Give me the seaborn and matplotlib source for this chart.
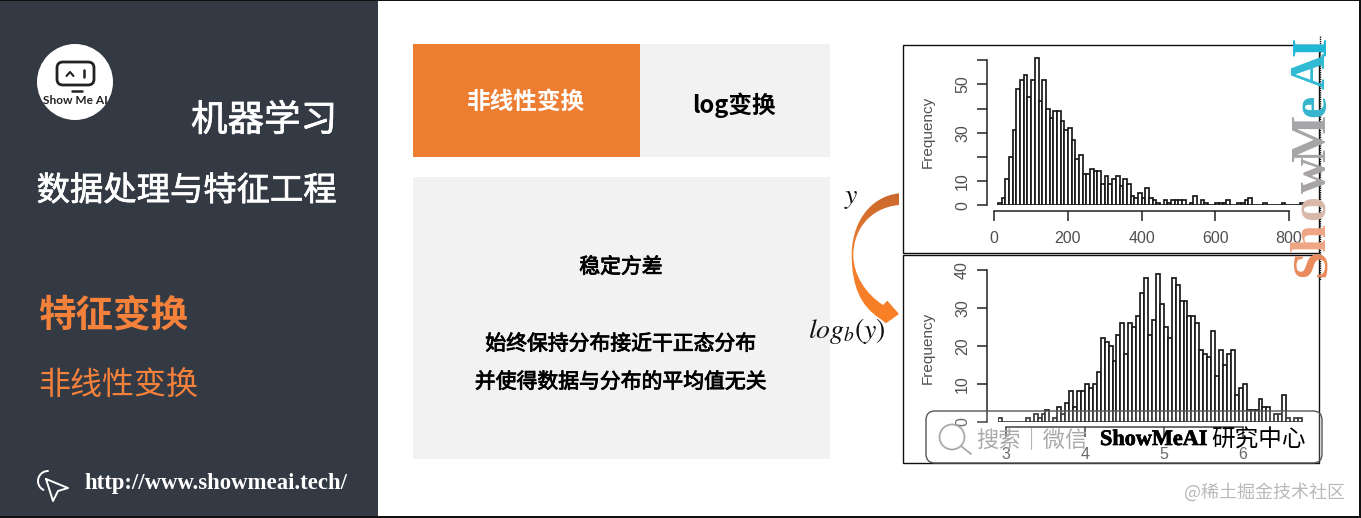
import numpy as np
import pandas as pd
import matplotlib
matplotlib.use("Agg")
import matplotlib.pyplot as plt
import matplotlib.patheffects as pe
from matplotlib.colors import LinearSegmentedColormap
from matplotlib.patches import Rectangle, Circle, FancyBboxPatch, PathPatch
from matplotlib.path import Path
import seaborn as sns

# histogram of y, bins of 10 starting at 10
raw_start, raw_width = 10, 10
raw_counts = [1, 3, 11, 20, 31, 48, 52, 54, 45, 52, 61, 43, 52, 40, 36, 39, 39, 35, 31, 32,
              27, 19, 21, 13, 13, 15, 14, 14, 9, 12, 9, 11, 12, 8, 11, 9, 4, 3, 5, 3,
              7, 3, 2, 1, 0, 2, 1, 2, 2, 2, 2, 0, 1, 4, 0, 2, 1, 0, 0, 1,
              1, 1, 2, 0, 0, 1, 1, 2, 3, 0, 0, 0, 1, 0, 0, 0, 0, 1, 0, 0,
              0, 0, 1]
raw_xticks = [0, 200, 400, 600, 800]
raw_yticks = [0, 10, 20, 30, 40, 50, 60]
raw_ylabels = ["0", "10", "", "30", "", "50", ""]

# histogram of log(y), bins of 0.05 starting at 2.9
log_start, log_width = 2.9, 0.05
log_counts = [1, 0, 0, 0, 0, 0, 0, 1, 0, 2, 1, 2, 3, 0, 1, 4, 2, 5, 8, 4,
              8, 8, 10, 9, 10, 13, 22, 21, 20, 16, 23, 26, 18, 26, 25, 28, 34, 38, 23, 27,
              39, 31, 25, 22, 38, 36, 32, 32, 28, 28, 26, 19, 18, 17, 24, 12, 19, 15, 18, 19,
              7, 9, 10, 3, 3, 3, 6, 4, 4, 0, 2, 2, 7, 1, 0, 1, 1]
log_xticks = [3, 4, 5, 6]
log_yticks = [0, 10, 20, 30, 40]

title_lines = ["机器学习", "数据处理与特征工程"]
section_title = "特征变换"
section_sub = "非线性变换"
url_text = "http://www.showmeai.tech/"
box_head = "非线性变换"
box_name = "log变换"
box_lines = ["稳定方差", "始终保持分布接近干正态分布", "并使得数据与分布的平均值无关"]

W, H = 1361, 518
ORANGE = "#ED7D31"
DARK = "#333A44"
GREY = "#F2F2F2"

sns.set_theme(style="white")
plt.rcParams["font.family"] = ["Noto Sans CJK SC", "DejaVu Sans"]
plt.rcParams["mathtext.fontset"] = "stix"

fig = plt.figure(figsize=(W / 100, H / 100), dpi=100, facecolor="white")


def px_axes(x0, y0, x1, y1, z):
    # axes placed by pixel box, y counted from the top
    ax = fig.add_axes([x0 / W, 1 - y1 / H, (x1 - x0) / W, (y1 - y0) / H], zorder=z)
    return ax


def overlay(z):
    ax = px_axes(0, 0, W, H, z)
    ax.set_xlim(0, W)
    ax.set_ylim(H, 0)
    ax.axis("off")
    ax.patch.set_alpha(0)
    return ax


def heavier(txt, color, lw=0.5):
    # between regular and bold, the CJK font has nothing there
    txt.set_path_effects([pe.withStroke(linewidth=lw, foreground=color)])
    return txt


bg = overlay(0)
fg = overlay(5)

# left panel
bg.add_patch(Rectangle((0, 0), 378, H, color=DARK, lw=0))
bg.add_patch(Rectangle((0, 0), W, 1.2, color="#111111", lw=0))
bg.add_patch(Rectangle((0, 515.5), W, 2.5, color="#111111", lw=0))
bg.add_patch(Rectangle((W - 1.5, 0), 1.5, H, color="#111111", lw=0))

# logo
bg.add_patch(Circle((75, 82), 38, color="white", lw=0))
bg.add_patch(FancyBboxPatch((57, 62), 37, 23, boxstyle="round,pad=0,rounding_size=6",
                            fc="none", ec="#222222", lw=2))
bg.plot([66.5, 70, 73.5], [76, 72, 76], color="#222222", lw=1.5)
bg.plot([84.5, 84.5], [70, 77], color="#222222", lw=1.8)
bg.plot([72, 82], [91, 91], color="#222222", lw=1.8)
bg.text(75, 101, "Show Me AI", ha="center", va="center", fontsize=8.6, fontweight="bold",
        color="#222222", family="Lato")

heavier(bg.text(337, 121, title_lines[0], color="white", fontsize=26.3, ha="right", va="center"), "white")
heavier(bg.text(337, 191, title_lines[1], color="white", fontsize=24, ha="right", va="center"), "white")
bg.text(38, 314.5, section_title, color="#F5813A", fontsize=27, fontweight="bold", va="center")
bg.text(38, 386, section_sub, color="#F5813A", fontsize=23, va="center")
bg.text(84, 483, url_text, color="white", fontsize=16.4, fontweight="bold", va="center",
        family="Liberation Serif")

# pointer icon next to the url
bg.plot([46, 68, 58, 53, 46], [479, 488, 491, 501, 479], color="white", lw=1.4)
arc = np.linspace(np.pi * 0.5, np.pi * 1.35, 30)
bg.plot(48 + 10 * np.cos(arc), 481 - 10 * np.sin(arc), color="white", lw=1.4)

# boxes
bg.add_patch(Rectangle((413, 44), 227, 113, color=ORANGE, lw=0))
bg.add_patch(Rectangle((640, 44), 190, 113, color=GREY, lw=0))
bg.add_patch(Rectangle((413, 177), 417, 282, color=GREY, lw=0))
bg.text(526, 102, box_head, color="white", fontsize=17, fontweight="bold", ha="center", va="center")
bg.text(734, 105, box_name, color="black", fontsize=17, fontweight="bold", ha="center", va="center")
for line, yy in zip(box_lines, [267, 344, 382]):
    heavier(bg.text(621, yy, line, color="black", fontsize=15, ha="center", va="center"), "black", 0.6)

# frames round the two plots
bg.add_patch(Rectangle((903.5, 44.5), 416, 208, fc="white", ec="#111111", lw=1))
bg.add_patch(Rectangle((903.5, 254.5), 416, 208, fc="white", ec="#111111", lw=1))

bg.text(851, 196, r"$y$", fontsize=20, ha="center", va="center", color="#111111")
bg.text(847, 331, r"$log_b(y)$", fontsize=20, ha="center", va="center", color="#111111")

# curved arrow
arrow_verts = [(899, 193.3), (868, 197), (851.7, 225), (851.7, 255), (851.7, 285), (860, 306), (880, 318.5),
               (886, 323.3), (899, 314), (887.3, 300.7), (883, 305),
               (866, 294), (853.3, 275), (853.3, 255), (853.3, 232), (868, 208), (899, 205), (899, 193.3)]
arrow_codes = [Path.MOVETO, Path.CURVE4, Path.CURVE4, Path.CURVE4, Path.CURVE4, Path.CURVE4, Path.CURVE4,
               Path.LINETO, Path.LINETO, Path.LINETO, Path.LINETO,
               Path.CURVE4, Path.CURVE4, Path.CURVE4, Path.CURVE4, Path.CURVE4, Path.CURVE4, Path.CLOSEPOLY]
arrow_patch = PathPatch(Path(arrow_verts, arrow_codes), fc="none", ec="none", transform=bg.transData)
bg.add_patch(arrow_patch)
arrow_cmap = LinearSegmentedColormap.from_list("arrow", ["#C9682C", "#F08030", "#FA7F24"])
grad = bg.imshow(np.linspace(0, 1, 100).reshape(-1, 1), cmap=arrow_cmap, aspect="auto",
                 extent=(850, 900, 325, 192), zorder=3)
grad.set_clip_path(arrow_patch)
bg.set_xlim(0, W)
bg.set_ylim(H, 0)


def r_hist(box, start, width, counts, xlim, ylim, xticks, yticks, ylabels, left_off, bottom_off):
    ax = px_axes(*box, 2)
    edges = start + width * np.arange(len(counts) + 1)
    df = pd.DataFrame({"center": edges[:-1] + width / 2, "count": counts})
    sns.histplot(data=df, x="center", weights="count", bins=list(edges), ax=ax,
                 color="white", edgecolor="#1a1a1a", linewidth=1.25, alpha=1)
    ax.set_xlim(*xlim)
    ax.set_ylim(*ylim)
    ax.patch.set_alpha(0)
    for side in ["top", "right"]:
        ax.spines[side].set_visible(False)
    for side, off in [("left", left_off), ("bottom", bottom_off)]:
        ax.spines[side].set_position(("outward", off))
        ax.spines[side].set_color("#222222")
        ax.spines[side].set_linewidth(1.1)
    ax.spines["bottom"].set_bounds(xticks[0], xticks[-1])
    ax.spines["left"].set_bounds(yticks[0], yticks[-1])
    ax.set_xticks(xticks)
    ax.set_yticks(yticks)
    ax.set_yticklabels(ylabels, rotation=90, va="center")
    ax.tick_params(axis="both", bottom=True, left=True, length=7, width=1.1, color="#222222",
                   labelsize=11.5, labelcolor="#505050")
    ax.tick_params(axis="x", pad=7.5)
    ax.tick_params(axis="y", pad=5)
    for t in ax.get_xticklabels() + ax.get_yticklabels():
        t.set_family("Liberation Sans")
    ax.set_xlabel("")
    ax.set_ylabel("")
    return ax


r_hist((994.3, 55.5, 1307.4, 205.3), raw_start, raw_width, raw_counts, (0, 850), (0, 62),
       raw_xticks, raw_yticks, raw_ylabels, 5.5, 4)
r_hist((998.1, 270.3, 1302.7, 421.7), log_start, log_width, log_counts, (2.9, 6.76), (0, 40),
       log_xticks, log_yticks, [str(v) for v in log_yticks], 8.2, 4)

fg.text(928, 132, "Frequency", rotation=90, fontsize=11, color="#505050", ha="center", va="center",
        family="Liberation Sans")
fg.text(928, 348, "Frequency", rotation=90, fontsize=11, color="#505050", ha="center", va="center",
        family="Liberation Sans")

# vertical watermark
wm_letters = ["S", "h", "o", "w", "M", "e", "A", "I"]
wm_colors = ["#E98A5C", "#EFA583", "#D8B8A8", "#A8A4A4", "#A5A5A8", "#35B5CC", "#2FBAD3", "#20B8D8"]
wm_y = [263, 237, 208, 175, 138, 106, 71, 46]
for ch, col, yy in zip(wm_letters, wm_colors, wm_y):
    fg.text(1325, yy, ch, rotation=90, rotation_mode="anchor", fontsize=36, fontweight="bold", color=col,
            ha="center", va="baseline", family="Liberation Serif")
fg.add_patch(Rectangle((1320.5, 36), 10, 245, color="white", lw=0))
fg.plot([1320, 1320], [36, 280], color="#111111", lw=1, ls=(0, (1, 0.6)))

# search badge
fg.add_patch(FancyBboxPatch((926, 411), 396, 52, boxstyle="round,pad=0,rounding_size=9",
                            fc=(1, 1, 1, 0.15), ec="#555555", lw=1))
fg.add_patch(Circle((952, 437), 12.5, fc="none", ec="#AAAAAA", lw=1.3))
fg.plot([961, 971], [446, 454], color="#AAAAAA", lw=1.3)
fg.text(976, 440.5, "搜索｜微信", color="#AAAAAA", fontsize=16, va="center")
heavier(fg.text(1100, 440, "ShowMeAI", color="black", fontsize=16, fontweight="bold", va="center",
                family="Liberation Serif"), "black", 0.5)
fg.text(1211, 440.5, "研究中心", color="black", fontsize=17, va="center")

fg.text(1345, 492, "@稀土掘金技术社区", color="#B9B9B9", fontsize=13, ha="right", va="center")

fig.savefig("out.png", dpi=100)
